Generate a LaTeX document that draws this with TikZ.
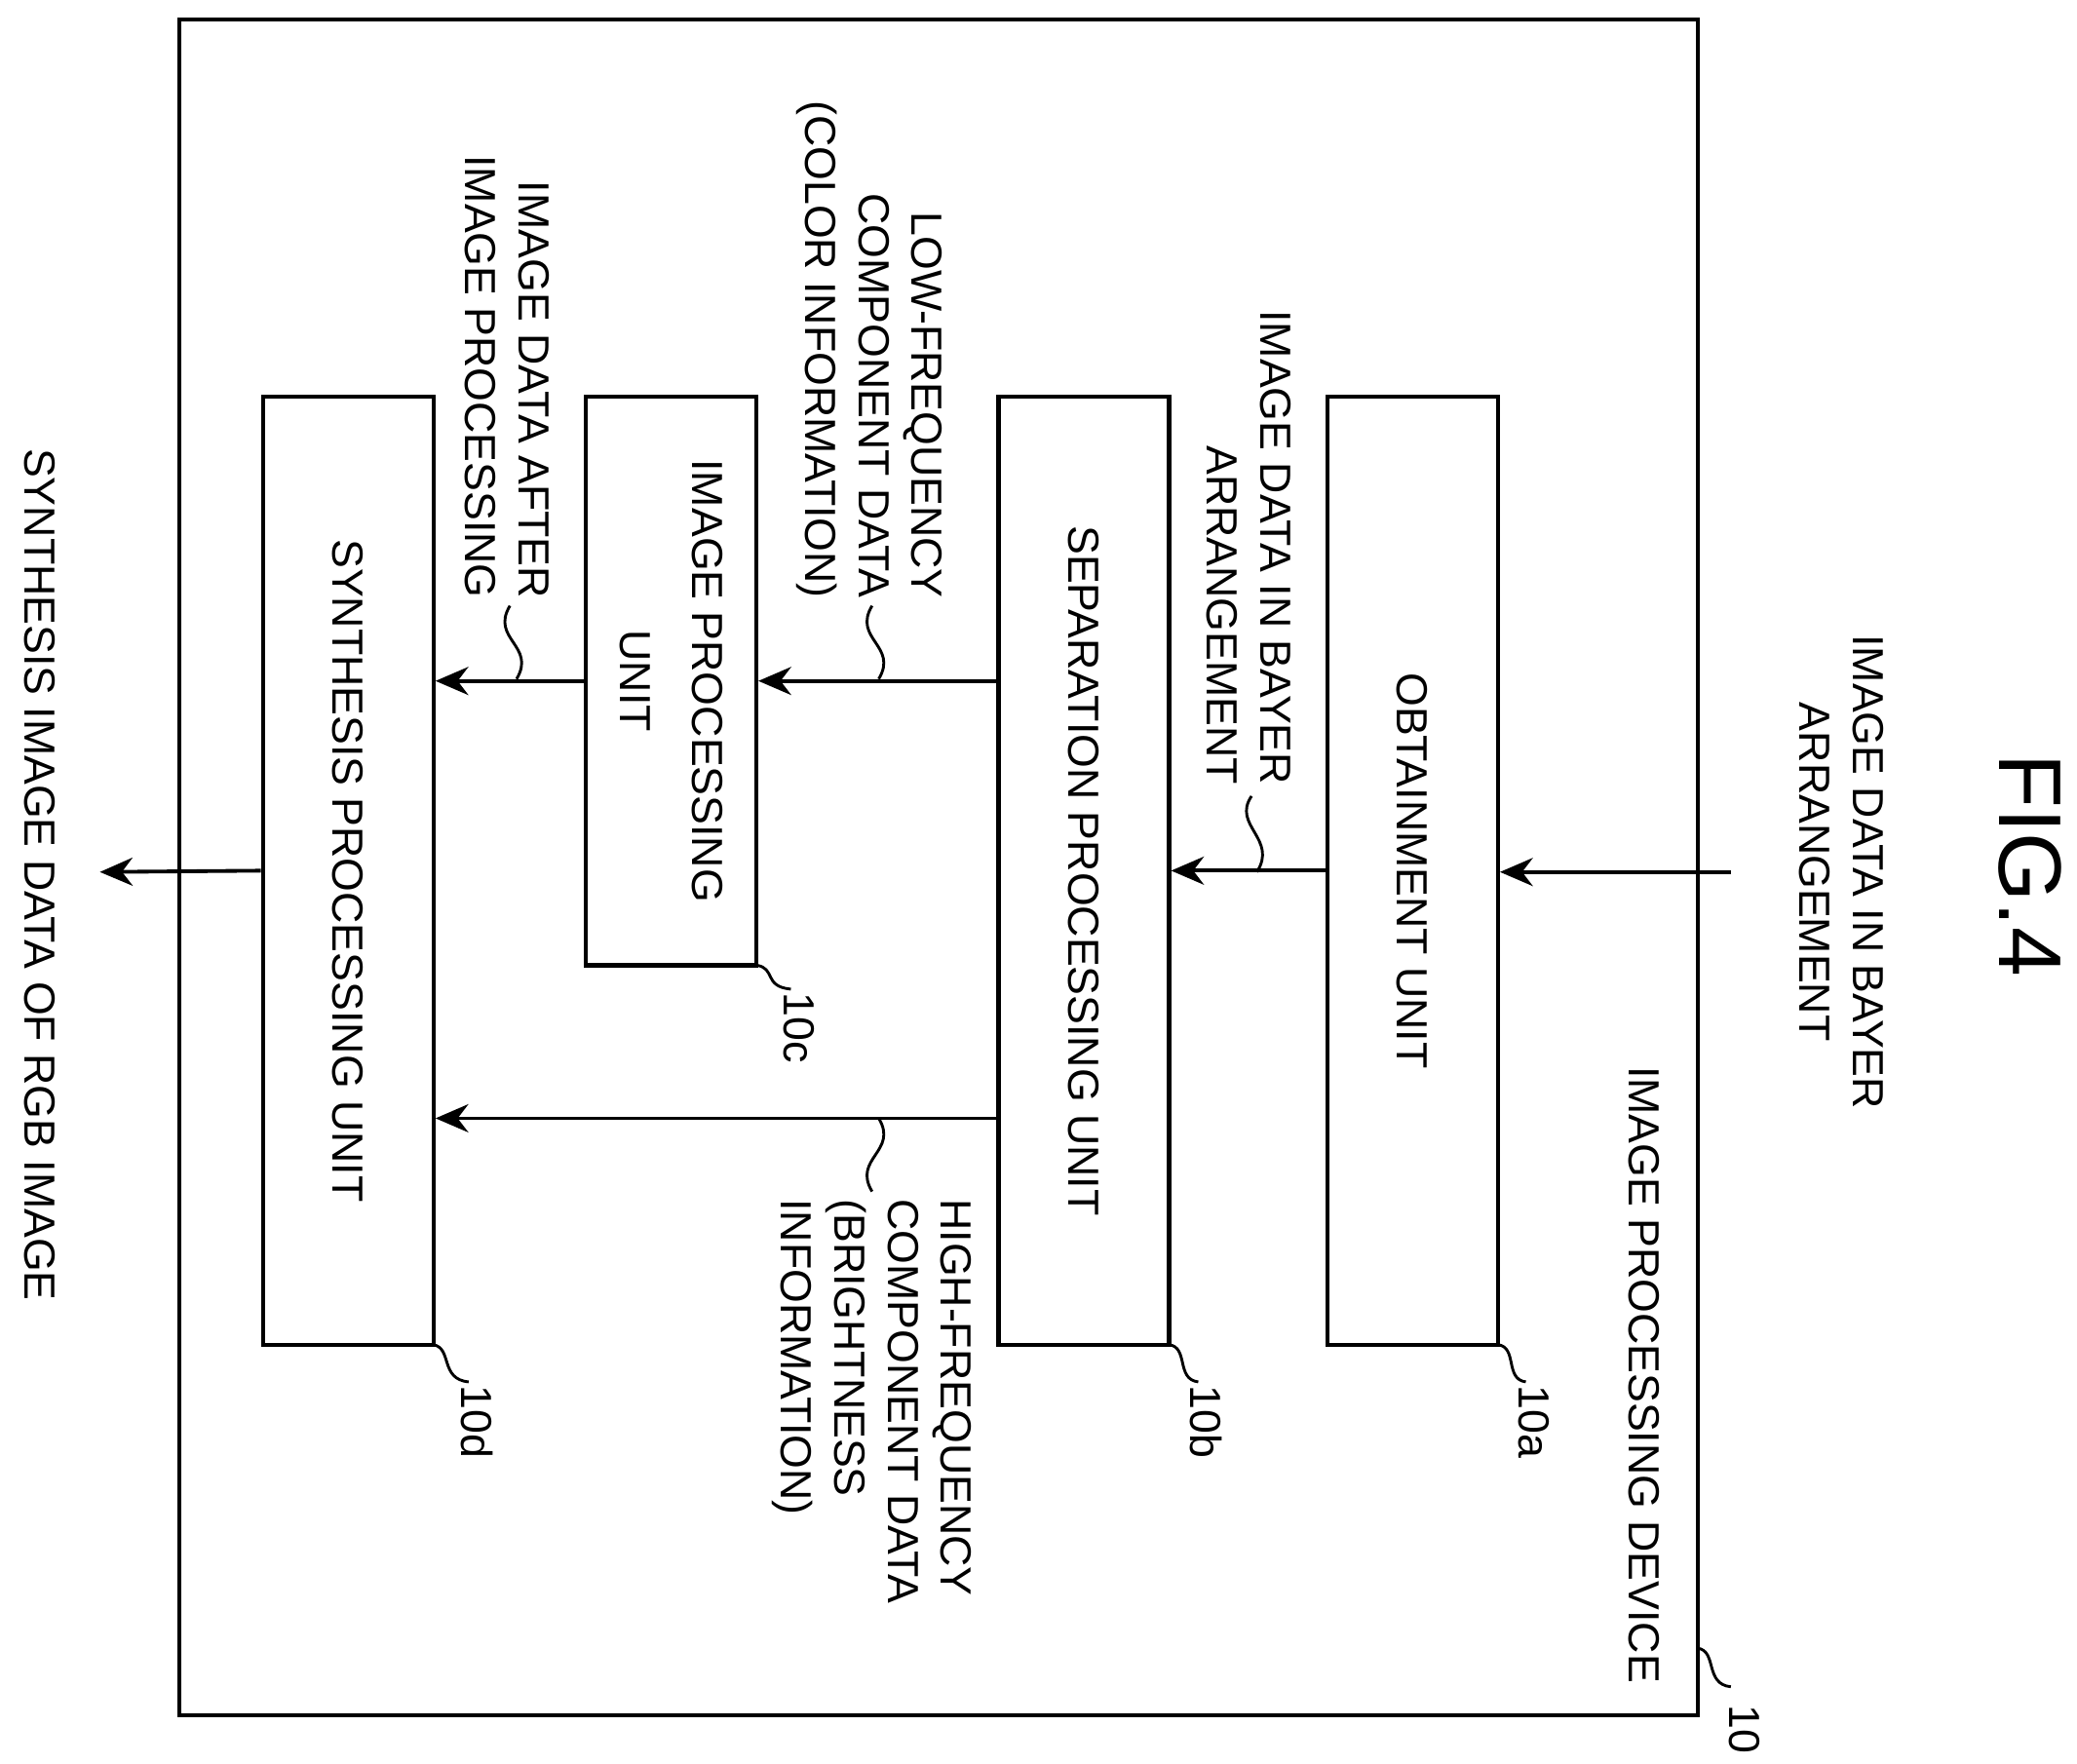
\documentclass[tikz,border=0pt]{standalone}
\usepackage{fontspec}
\setmainfont{Liberation Sans}
\usetikzlibrary{arrows.meta}
\begin{document}
\begin{tikzpicture}[x=0.01cm,y=-0.01cm,
  box/.style={draw,line width=0.9pt,minimum width=1.28cm,inner sep=0pt},
  txt/.style={rotate=-90,font=\fontsize{9.3}{11.4}\selectfont,inner sep=0pt},
  arr/.style={-{Stealth[length=7pt,width=6pt]},line width=0.8pt},
  lead/.style={line width=0.6pt}]
\useasboundingbox (0,0) rectangle (1560,1325);
\node[draw,line width=0.9pt,minimum width=11.4cm,minimum height=12.73cm] (dev) at (705,651.5) {};
\node[box,minimum height=7.12cm] (obt) at (1061,654) {};
\node[box,minimum height=7.12cm] (sep) at (814,654) {};
\node[box,minimum height=4.27cm] (ip) at (504,511.5) {};
\node[box,minimum height=7.12cm] (syn) at (261.5,654) {};
\node[txt] at (obt) {OBTAINMENT UNIT};
\node[txt] at (sep) {SEPARATION PROCESSING UNIT};
\node[txt,align=center] at (ip) {IMAGE PROCESSING\\[4pt]UNIT};
\node[txt] at (syn) {SYNTHESIS PROCESSING UNIT};
\node[txt,font=\fontsize{19}{22}\selectfont] (fig) at (1525,650) {FIG.4};
\node[txt,align=center] (inl) at (1383,655) {IMAGE DATA IN BAYER\\ARRANGEMENT};
\node[txt,anchor=east] (devl) at (1235,1265) {IMAGE PROCESSING DEVICE};
\node[txt,align=right,anchor=east] (bay) at (938,590) {IMAGE DATA IN BAYER\\ARRANGEMENT};
\node[txt,align=right,anchor=east] (low) at (653,450) {LOW-FREQUENCY\\COMPONENT DATA\\(COLOR INFORMATION)};
\node[txt,align=right,anchor=east] (aft) at (381,450) {IMAGE DATA AFTER\\IMAGE PROCESSING};
\node[txt,align=left,anchor=west] (high) at (655,900) {HIGH-FREQUENCY\\COMPONENT DATA\\(BRIGHTNESS\\INFORMATION)};
\node[txt] (outl) at (30,657) {SYNTHESIS IMAGE DATA OF RGB IMAGE};
\node[txt,anchor=west] (l10) at (1310,1280) {10};
\node[txt,anchor=west] (l10a) at (1152,1040) {10a};
\node[txt,anchor=west] (l10b) at (906,1040) {10b};
\node[txt,anchor=west] (l10c) at (600,745) {10c};
\node[txt,anchor=west] (l10d) at (358,1040) {10d};
\coordinate (in) at (1300,655);
\coordinate (out) at (75,655);
\coordinate (h) at (0,840);
\draw[arr] (in) -- (obt.east |- in);
\draw[arr] (obt.west) -- (sep.east);
\draw[arr] (ip.east -| sep.west) -- (ip.east);
\draw[arr] (ip.west) -- (ip.west -| syn.east);
\draw[arr] (h -| sep.west) -- (h -| syn.east);
\draw[arr] (syn.west) -- (out);
% leaders
\draw[lead] (940,598) .. controls (925,620) and (960,630) .. (944,655);
\draw[lead] (655,455) .. controls (640,480) and (675,485) .. (660,510);
\draw[lead] (383,455) .. controls (368,480) and (403,485) .. (388,510);
\draw[lead] (660,840) .. controls (675,865) and (640,870) .. (655,895);
\draw[lead] (1275,1238) .. controls (1290,1240) and (1280,1265) .. (1300,1267);
\draw[lead] (1125,1010) .. controls (1140,1012) and (1130,1036) .. (1146,1038);
\draw[lead] (878,1010) .. controls (893,1012) and (883,1036) .. (900,1038);
\draw[lead] (568,725) .. controls (583,727) and (573,741) .. (594,743);
\draw[lead] (325,1010) .. controls (340,1012) and (330,1036) .. (352,1038);
\end{tikzpicture}
\end{document}
